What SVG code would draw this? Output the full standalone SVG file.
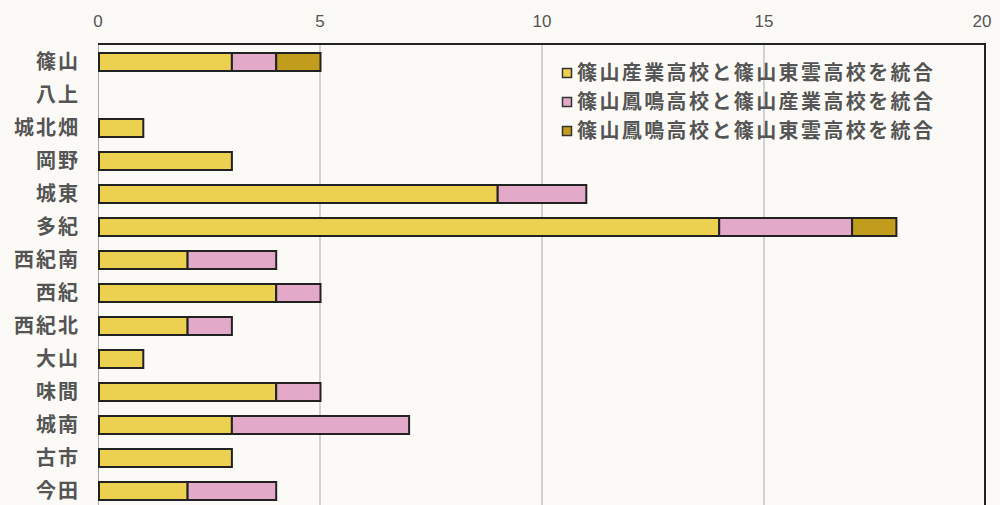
<svg xmlns="http://www.w3.org/2000/svg" width="1000" height="505" viewBox="0 0 1000 505">
<style>
.tick{font-family:"Liberation Sans","Noto Sans",sans-serif;font-size:17px;fill:#555;text-anchor:middle}
.lab{font-family:"Noto Sans CJK JP",sans-serif;font-size:20px;font-weight:bold;fill:#555;text-anchor:end;letter-spacing:2px}
.leg{font-family:"Noto Sans CJK JP",sans-serif;font-size:20px;font-weight:bold;fill:#555;letter-spacing:2.4px}
.grid{stroke:#aaa;stroke-width:1}
.s1{fill:#ecd04f;stroke:#222;stroke-width:2}
.s2{fill:#e2a9c9;stroke:#222;stroke-width:2}
.s3{fill:#c29c1c;stroke:#222;stroke-width:2}
.sw{stroke:#333;stroke-width:1.5}
</style>
<rect width="1000" height="505" fill="#fbfaf6"/>
<g id="axes">
<line class="grid" x1="98.5" y1="44" x2="98.5" y2="505"/>
<line class="grid" x1="320" y1="44" x2="320" y2="505"/>
<line class="grid" x1="542" y1="44" x2="542" y2="505"/>
<line class="grid" x1="764" y1="44" x2="764" y2="505"/>
<line x1="98" y1="44" x2="985" y2="44" stroke="#222" stroke-width="2"/>
<line x1="985" y1="43" x2="985" y2="505" stroke="#222" stroke-width="2"/>
<text class="tick" x="98" y="27">0</text>
<text class="tick" x="320" y="27">5</text>
<text class="tick" x="542" y="27">10</text>
<text class="tick" x="764" y="27">15</text>
<text class="tick" x="982" y="27">20</text>
</g>
<g id="labels">
<text class="lab" x="80" y="69">篠山</text>
<text class="lab" x="80" y="102">八上</text>
<text class="lab" x="80" y="135">城北畑</text>
<text class="lab" x="80" y="168">岡野</text>
<text class="lab" x="80" y="201">城東</text>
<text class="lab" x="80" y="234">多紀</text>
<text class="lab" x="80" y="267">西紀南</text>
<text class="lab" x="80" y="300">西紀</text>
<text class="lab" x="80" y="333">西紀北</text>
<text class="lab" x="80" y="366">大山</text>
<text class="lab" x="80" y="399">味間</text>
<text class="lab" x="80" y="432">城南</text>
<text class="lab" x="80" y="465">古市</text>
<text class="lab" x="80" y="498">今田</text>
</g>
<g id="bars">
<rect class="s1" x="99" y="53" width="132.9" height="18"/><rect class="s2" x="231.9" y="53" width="44.3" height="18"/><rect class="s3" x="276.2" y="53" width="44.3" height="18"/>
<rect class="s1" x="99" y="119" width="44.3" height="18"/>
<rect class="s1" x="99" y="152" width="132.9" height="18"/>
<rect class="s1" x="99" y="185" width="398.7" height="18"/><rect class="s2" x="497.7" y="185" width="88.6" height="18"/>
<rect class="s1" x="99" y="218" width="620.2" height="18"/><rect class="s2" x="719.2" y="218" width="132.9" height="18"/><rect class="s3" x="852.1" y="218" width="44.3" height="18"/>
<rect class="s1" x="99" y="251" width="88.6" height="18"/><rect class="s2" x="187.6" y="251" width="88.6" height="18"/>
<rect class="s1" x="99" y="284" width="177.2" height="18"/><rect class="s2" x="276.2" y="284" width="44.3" height="18"/>
<rect class="s1" x="99" y="317" width="88.6" height="18"/><rect class="s2" x="187.6" y="317" width="44.3" height="18"/>
<rect class="s1" x="99" y="350" width="44.3" height="18"/>
<rect class="s1" x="99" y="383" width="177.2" height="18"/><rect class="s2" x="276.2" y="383" width="44.3" height="18"/>
<rect class="s1" x="99" y="416" width="132.9" height="18"/><rect class="s2" x="231.9" y="416" width="177.2" height="18"/>
<rect class="s1" x="99" y="449" width="132.9" height="18"/>
<rect class="s1" x="99" y="482" width="88.6" height="18"/><rect class="s2" x="187.6" y="482" width="88.6" height="18"/>
</g>
<g id="legend">
<rect class="sw" x="562.5" y="68.5" width="9" height="9" fill="#ecd04f"/>
<text class="leg" x="577" y="80">篠山産業高校と篠山東雲高校を統合</text>
<rect class="sw" x="562.5" y="97.5" width="9" height="9" fill="#e2a9c9"/>
<text class="leg" x="577" y="109">篠山鳳鳴高校と篠山産業高校を統合</text>
<rect class="sw" x="562.5" y="126.5" width="9" height="9" fill="#c29c1c"/>
<text class="leg" x="577" y="138">篠山鳳鳴高校と篠山東雲高校を統合</text>
</g>
</svg>
